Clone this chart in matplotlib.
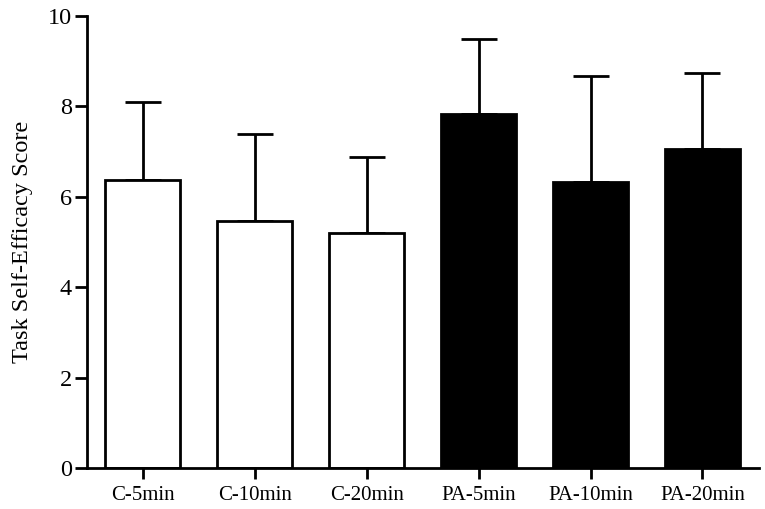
import numpy as np
import matplotlib

matplotlib.use('Agg')
import matplotlib.pyplot as plt

# Data
groups = ['C-5min', 'C-10min', 'C-20min', 'PA-5min', 'PA-10min', 'PA-20min']
means = [6.36, 5.46, 5.21, 7.82, 6.33, 7.06]
upper = [8.09, 7.38, 6.89, 9.48, 8.66, 8.73]
errs = [u - m for u, m in zip(upper, means)]
fills = ['white', 'white', 'white', 'black', 'black', 'black']

plt.rcParams['font.family'] = ['Liberation Serif', 'DejaVu Serif']

fig = plt.figure(figsize=(7.65, 5.09), dpi=100)
ax = fig.add_axes([0.114, 0.08, 0.8786, 0.889])

x = np.arange(len(groups))
ax.bar(x, means, width=0.667, color=fills, edgecolor='black', linewidth=2, zorder=2)
ax.errorbar(x, means, yerr=[np.zeros(len(errs)), errs], fmt='none', ecolor='black',
            elinewidth=2, capsize=13, capthick=2, zorder=1)

ax.set_xlim(-0.496, 5.508)
ax.set_ylim(0, 10)
ax.set_yticks([0, 2, 4, 6, 8, 10])
ax.set_xticks(x)
ax.set_xticklabels(groups, fontsize=15)
ax.tick_params(axis='y', labelsize=17.5, length=9, width=2, pad=2)
ax.tick_params(axis='x', length=8, width=2, pad=5)
ax.set_ylabel('Task Self-Efficacy Score', fontsize=17.5, labelpad=11)

for side in ['top', 'right']:
  ax.spines[side].set_visible(False)
for side in ['left', 'bottom']:
  ax.spines[side].set_linewidth(2)

fig.savefig('out.png', dpi=100)
